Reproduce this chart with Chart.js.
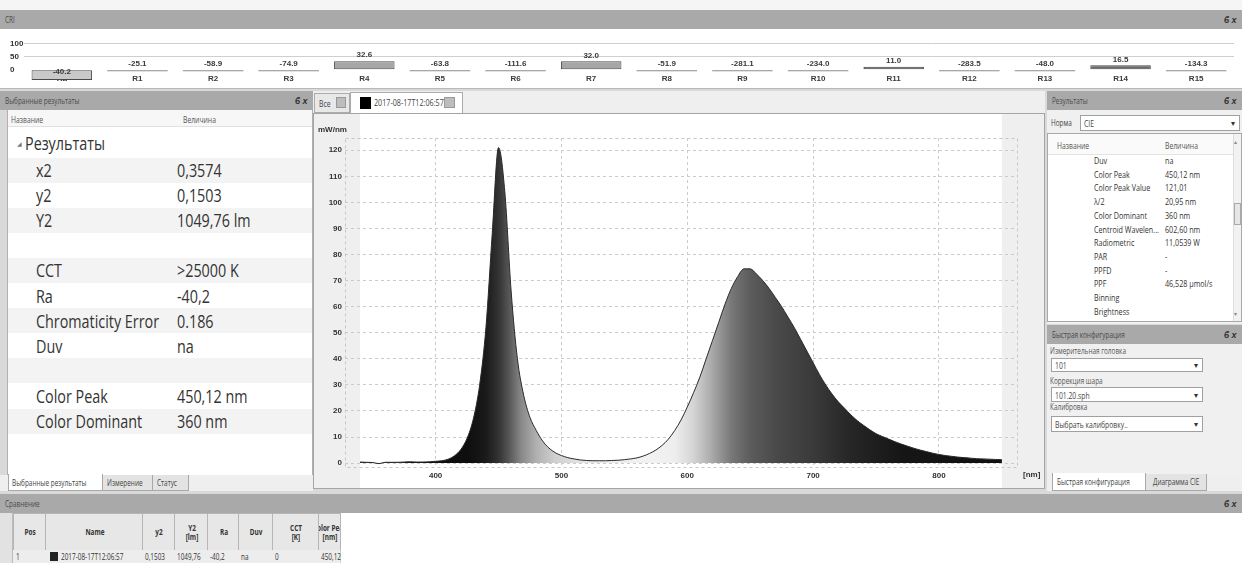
<!DOCTYPE html>
<html lang="ru">
<head>
<meta charset="utf-8">
<title>Спектр</title>
<script src="https://cdn.jsdelivr.net/npm/chart.js@4.4.1/dist/chart.umd.min.js"></script>
<style>
html,body{margin:0;padding:0}
body{width:1242px;height:563px;overflow:hidden;background:#d9d9d9;position:relative;font-family:"Open Sans","Noto Sans",sans-serif;color:#333}
.b{position:absolute;box-sizing:border-box;overflow:hidden}
.t{position:absolute;white-space:nowrap;line-height:1;transform:translateY(-50%) scaleX(.755);transform-origin:0 50%}
.tc{position:absolute;white-space:nowrap;line-height:1.1;text-align:center;transform:translate(-50%,-50%) scaleX(.755);transform-origin:50% 50%}
</style>
</head>
<body>
<script>
// CRI: Ra и R1..R15
const criLabels = ['Ra','R1','R2','R3','R4','R5','R6','R7','R8','R9','R10','R11','R12','R13','R14','R15'];
const criValues = [-40.2,-25.1,-58.9,-74.9,32.6,-63.8,-111.6,32.0,-51.9,-281.1,-234.0,11.0,-283.5,-48.0,16.5,-134.3];
const criTicks = [0,50,100];
const criColors = ['#c9c9c9','#8c8c8c','#8c8c8c','#8c8c8c','#a6a6a6','#8c8c8c','#8c8c8c','#a6a6a6',
  '#8c8c8c','#8c8c8c','#8c8c8c','#6b6b6b','#8c8c8c','#8c8c8c','#6b6b6b','#8c8c8c'];

// спектр, нм -> мВт/нм
const wavelengths = [
  340,345,350,355,360,365,370,375,380,385,
  390,395,400,405,410,415,420,425,430,435,
  440,445,450,455,460,465,470,475,480,485,
  490,495,500,505,510,515,520,525,530,535,
  540,545,550,555,560,565,570,575,580,585,
  590,595,600,605,610,615,620,625,630,635,
  640,645,650,655,660,665,670,675,680,685,
  690,695,700,705,710,715,720,725,730,735,
  740,745,750,755,760,765,770,775,780,785,
  790,795,800,805,810,815,820,825,830,835,
  840,845,850];
const power = [
  0.4,0.3,0.2,-0.2,0.3,0.3,0.3,0.4,0.5,0.4,
  0.4,0.5,0.7,0.9,1.5,2.8,5.2,9.5,17,30,
  52,88,121.01,104,66,40,26,17.5,12.5,8.5,
  5.8,4.0,2.9,2.1,1.6,1.2,1.0,0.9,0.9,0.9,
  1.0,1.1,1.3,1.6,2.0,2.7,3.7,5.0,6.8,9.2,
  12.5,16.5,21.5,27,33,40,47,54,61,67,
  71.5,74.5,74.5,72.5,70,67,63.5,60,56,52,
  47.5,43,38.5,34,30,26.5,23.5,21,18.5,16.3,
  14.5,12.8,11.3,10.2,9.2,8.2,7.3,6.5,5.7,5.0,
  4.4,3.8,3.3,2.9,2.6,2.3,2.1,1.9,1.7,1.6,
  1.5,1.4,1.3];
const xTicks = [400,500,600,700,800];
const yTicks = [0,10,20,30,40,50,60,70,80,90,100,110,120];

// градиент заливки по длине волны
const fillStops = [[340,'#101010'],[425,'#0e0e0e'],[440,'#1a1a1a'],[450,'#333'],[458,'#555'],[468,'#888'],
  [480,'#b0b0b0'],[495,'#d0d0d0'],[520,'#e6e6e6'],[570,'#f2f2f2'],[590,'#eeeeee'],[605,'#d4d4d4'],
  [620,'#a8a8a8'],[635,'#787878'],[650,'#5c5c5c'],[670,'#4a4a4a'],[700,'#3a3a3a'],[730,'#262626'],
  [770,'#161616'],[850,'#111']];

const leftRows = [['x2','0,3574'],['y2','0,1503'],['Y2','1049,76 lm'],['',''],['CCT','>25000 K'],['Ra','-40,2'],
  ['Chromaticity Error','0.186'],['Duv','na'],['',''],['Color Peak','450,12 nm'],['Color Dominant','360 nm']];
const resRows = [['Duv','na'],['Color Peak','450,12 nm'],['Color Peak Value','121,01'],['λ/2','20,95 nm'],
  ['Color Dominant','360 nm'],['Centroid Wavelen...','602,60 nm'],['Radiometric','11,0539 W'],['PAR','-'],
  ['PPFD','-'],['PPF','46,528 μmol/s'],['Binning',''],['Brightness','']];

const tickFont = {family:'"Liberation Sans", Arial, sans-serif', size:8, weight:'bold'};

function box(x, y, w, h, css, parent) {
  const d = document.createElement('div');
  d.className = 'b';
  d.style.cssText = `left:${x}px;top:${y}px;width:${w}px;height:${h}px;` + (css || '');
  (parent || document.body).appendChild(d);
  return d;
}
function put(x, y, s, size, css, parent, cls) {
  const d = document.createElement('div');
  d.className = cls || 't';
  d.textContent = s;
  d.style.cssText = `left:${x}px;top:${y}px;font-size:${size}px;` + (css || '');
  (parent || document.body).appendChild(d);
  return d;
}
function pin(x, y) {
  put(x, y, 'ϐ x', 9, 'font-family:"Liberation Sans";font-weight:bold;font-style:italic;color:#333;transform:translateY(-50%)');
}
function combo(x, y, w, h, s) {
  box(x, y, w, h, 'background:#fff;border:1px solid #a0a0a0');
  put(x + 4, y + h / 2, s, 9, 'color:#444');
  put(x + w - 9, y + h / 2, '▾', 8, 'color:#333;transform:translateY(-50%)');
}
function header(x, y, w, s, withPin) {
  box(x, y, w, 19, 'background:#a9a9a9');
  put(x + 5, y + 9.5, s, 8.5, 'color:#4a4a4a');
  if (withPin) pin(x + w - 18, y + 9.5);
}

// верх: панель CRI
box(0, 0, 1242, 10, 'background:#f5f5f5');
header(0, 10, 1242, 'CRI', true);
const criBox = box(0, 29, 1242, 59, 'background:#fff');
box(0, 88, 1242, 1, 'background:#b8b8b8');

// левая панель: выбранные результаты
header(0, 91, 313, 'Выбранные результаты', true);
box(7, 110, 306, 365, 'background:#fff;border-left:1px solid #b0b0b0;border-right:1px solid #b0b0b0');
box(8, 110, 304, 17, 'background:#f7f7f7;border-bottom:1px solid #e2e2e2');
put(11, 118.5, 'Название', 9, 'color:#555');
put(183, 118.5, 'Величина', 9, 'color:#555');
leftRows.forEach((r, i) => {
  if (i % 2 === 0) box(8, 170 + i * 25.1 - 12.5, 304, 25, 'background:#f3f3f3');
});
put(17, 144, '◢', 6, 'color:#777;transform:translateY(-50%)');
put(25, 143, 'Результаты', 19);
leftRows.forEach((r, i) => {
  const cy = 170 + i * 25.1;
  put(36, cy, r[0], 19);
  put(177, cy, r[1], 19);
});
box(0, 475, 313, 16, 'background:#efefef');
box(8, 474, 95, 17, 'background:#fff;border:1px solid #a8a8a8;border-top:none');
put(12, 483, 'Выбранные результаты', 8.5, 'color:#444');
box(102, 475, 51, 16, 'background:#e3e3e3;border:1px solid #a8a8a8;border-top:none');
put(107, 483, 'Измерение', 8.5, 'color:#444');
box(152, 475, 37, 16, 'background:#e3e3e3;border:1px solid #a8a8a8;border-top:none');
put(157, 483, 'Статус', 8.5, 'color:#444');

// центр: вкладки и график спектра
box(313, 91, 732, 22, 'background:#efefef');
box(314, 93, 36, 20, 'background:#e8e8e8;border:1px solid #ababab');
put(319, 103, 'Все', 9, 'color:#444');
box(336, 97, 10, 11, 'background:#bdbdbd;border:1px solid #999');
box(350, 92, 113, 22, 'background:#fff;border:1px solid #ababab;border-bottom:none');
box(360, 97, 11, 12, 'background:#000');
put(374, 103, '2017-08-17T12:06:57', 9.5, 'color:#444');
box(444, 97, 11, 11, 'background:#bdbdbd;border:1px solid #999');
box(313, 113, 732, 376, 'background:#fff;border:1px solid #a5a5a5');
const specBox = box(314, 114, 730, 374, '');

// правая панель: результаты
header(1047, 91, 195, 'Результаты', true);
box(1047, 110, 195, 214, 'background:#f0f0f0');
put(1051, 123, 'Норма', 8.5, 'color:#444');
combo(1080, 115, 160, 16, 'CIE');
box(1047, 133, 195, 189, 'background:#fff;border:1px solid #a8a8a8');
box(1048, 134, 185, 21, 'background:#fafafa;border-bottom:1px solid #e4e4e4');
put(1057, 145, 'Название', 9, 'color:#555');
put(1165, 145, 'Величина', 9, 'color:#555');
box(1233, 134, 8, 187, 'background:#f2f2f2;border-left:1px solid #ddd');
box(1234, 203, 7, 22, 'background:#e6e6e6;border:1px solid #aaa');
put(1234, 142, '▴', 6, 'color:#888;transform:translateY(-50%)');
put(1234, 314, '▾', 6, 'color:#888;transform:translateY(-50%)');
resRows.forEach((r, i) => {
  const cy = 161 + i * 13.7;
  put(1094, cy, r[0], 9.5);
  put(1165, cy, r[1], 9.5);
});

// правая панель: быстрая конфигурация
header(1047, 325, 195, 'Быстрая конфигурация', true);
box(1047, 344, 195, 131, 'background:#f0f0f0');
put(1050, 351, 'Измерительная головка', 8.5, 'color:#555');
combo(1051, 358, 152, 14, '101');
put(1050, 381, 'Коррекция шара', 8.5, 'color:#555');
combo(1051, 387, 152, 15, '101.20.sph');
put(1050, 407, 'Калибровка', 8.5, 'color:#555');
combo(1051, 416, 152, 16, 'Выбрать калибровку..');
box(1047, 474, 195, 17, 'background:#efefef');
box(1052, 473, 94, 18, 'background:#fff;border:1px solid #a8a8a8;border-top:none');
put(1057, 482, 'Быстрая конфигурация', 8.5, 'color:#444');
box(1145, 474, 62, 17, 'background:#e3e3e3;border:1px solid #a8a8a8;border-top:none');
put(1153, 482, 'Диаграмма CIE', 8.5, 'color:#444');

// низ: сравнение
header(0, 494, 1242, 'Сравнение', true);
box(0, 513, 1242, 50, 'background:#fff');
box(0, 513, 13, 50, 'background:#e2e2e2;border-right:1px solid #bbb');
const cmpCols = [[13,32,'Pos'],[45,97,'Name'],[142,32,'y2'],[174,33,'Y2\n[lm]'],[207,31,'Ra'],
  [238,34,'Duv'],[272,46,'CCT\n[K]'],[318,22,'Color Peak\n[nm]']];
const cmpRow = ['1','2017-08-17T12:06:57','0,1503','1049,76','-40,2','na','0','450,12'];
cmpCols.forEach((c, i) => {
  const cell = box(c[0], 513, c[1] + 1, 38, 'background:#e7e7e7;border:1px solid #b5b5b5');
  put(c[1] / 2, 18, c[2], 8.5, 'font-weight:bold;white-space:pre;color:#333', cell, 'tc');
  box(c[0], 550, c[1] + 1, 13, 'background:#ededed;border-right:1px solid #d0d0d0');
  const tx = i === 1 ? c[0] + 16 : c[0] + 3;
  put(tx, 556.5, cmpRow[i], 8.5, 'color:#333');
});
box(50, 552, 8, 9, 'background:#222');

// подписи осей спектра
put(318, 130, 'mW/nm', 8, 'font-family:"Liberation Sans";font-weight:bold;transform:translateY(-50%)');
put(1023, 475, '[nm]', 8, 'font-family:"Liberation Sans";font-weight:bold;transform:translateY(-50%)');

const criCanvas = document.createElement('canvas');
criBox.appendChild(criCanvas);
const specCanvas = document.createElement('canvas');
specBox.appendChild(specCanvas);

// подписи значений над столбцами CRI
const criValueLabels = {
  id: 'criValueLabels',
  afterDatasetsDraw(chart) {
    const {ctx, scales: {y}} = chart;
    const zero = y.getPixelForValue(0);
    ctx.save();
    ctx.font = 'bold 8px "Liberation Sans", Arial';
    ctx.fillStyle = '#3a3a3a';
    ctx.textAlign = 'center';
    ctx.textBaseline = 'middle';
    chart.data.datasets.forEach((ds, di) => {
      chart.getDatasetMeta(di).data.forEach((bar, i) => {
        const v = ds.data[i];
        if (v == null) return;
        const ty = ds.clip === false ? (zero + bar.y) / 2 - 3 : Math.min(bar.y, zero) - 6;
        ctx.fillText(v.toFixed(1), bar.x, ty);
      });
    });
    ctx.restore();
  }
};

new Chart(criCanvas, {
  type: 'bar',
  data: {
    labels: criLabels,
    datasets: [
      {data: criValues.map((v, i) => i ? v : null), backgroundColor: criColors, borderColor: '#4a4a4a',
        borderWidth: c => (c.raw > 0 ? 1 : 0), borderSkipped: false, barPercentage: 0.8, categoryPercentage: 1, grouped: false},
      {data: criValues.map((v, i) => i ? null : v), backgroundColor: criColors, borderColor: '#4a4a4a',
        borderWidth: 1, borderSkipped: false, barPercentage: 0.8, categoryPercentage: 1, grouped: false, clip: false}
    ]
  },
  options: {
    animation: false, responsive: true, maintainAspectRatio: false,
    layout: {padding: {top: 12, right: 8, left: 10, bottom: 0}},
    plugins: {legend: {display: false}, tooltip: {enabled: false}},
    scales: {
      x: {grid: {display: false, drawTicks: false}, border: {display: false},
        ticks: {font: tickFont, color: '#3a3a3a', padding: 3, maxRotation: 0},
        afterFit: s => { s.height = 16.8; }},
      y: {min: -6, max: 110,
        afterBuildTicks: s => { s.ticks = criTicks.map(v => ({value: v})); },
        afterFit: s => { s.width = 14; },
        grid: {drawTicks: false, color: c => (c.tick && c.tick.value > 0 ? '#cfcfcf' : 'rgba(0,0,0,0)')},
        border: {display: false},
        ticks: {crossAlign: 'far', font: tickFont, color: '#333', padding: 0}}
    }
  },
  plugins: [criValueLabels]
});

// серые поля вне диапазона измерения и пунктирная рамка
const spectrumBack = {
  id: 'spectrumBack',
  beforeDraw(chart) {
    const {ctx, width, height, scales: {x}} = chart;
    const a = x.getPixelForValue(wavelengths[0]);
    const b = x.getPixelForValue(wavelengths[wavelengths.length - 1]);
    ctx.save();
    ctx.fillStyle = '#efefef';
    ctx.fillRect(0, 0, width, height);
    ctx.fillStyle = '#fff';
    ctx.fillRect(a, 0, b - a, height);
    ctx.restore();
  },
  beforeDatasetsDraw(chart) {
    const {ctx, chartArea: ca} = chart;
    ctx.save();
    ctx.strokeStyle = '#c6c6c6';
    ctx.lineWidth = 1;
    ctx.setLineDash([3, 3]);
    ctx.strokeRect(Math.round(ca.left) + 0.5, Math.round(ca.top) + 0.5, Math.round(ca.width), Math.round(ca.height));
    ctx.restore();
  }
};

function spectrumFill(c) {
  const chart = c.chart;
  if (!chart.chartArea) return '#555';
  const x = chart.scales.x;
  const w0 = wavelengths[0], w1 = wavelengths[wavelengths.length - 1];
  const g = chart.ctx.createLinearGradient(x.getPixelForValue(w0), 0, x.getPixelForValue(w1), 0);
  fillStops.forEach(([w, col]) => g.addColorStop((w - w0) / (w1 - w0), col));
  return g;
}

new Chart(specCanvas, {
  type: 'line',
  data: {
    datasets: [{
      data: wavelengths.map((w, i) => ({x: w, y: power[i]})),
      borderColor: '#2a2a2a', borderWidth: 1, pointRadius: 0,
      fill: 'origin', backgroundColor: spectrumFill, cubicInterpolationMode: 'monotone'
    }]
  },
  options: {
    animation: false, responsive: true, maintainAspectRatio: false,
    layout: {padding: {top: 24, right: 27, left: 0, bottom: 0}},
    plugins: {legend: {display: false}, tooltip: {enabled: false}},
    scales: {
      x: {type: 'linear', min: 328, max: 862,
        afterBuildTicks: s => { s.ticks = xTicks.map(v => ({value: v})); },
        afterFit: s => { s.height = 21; },
        grid: {color: '#cbcbcb', drawTicks: false},
        border: {display: false, dash: [3, 3]},
        ticks: {font: tickFont, color: '#333', padding: 4, maxRotation: 0}},
      y: {min: -1.5, max: 124.7,
        afterBuildTicks: s => { s.ticks = yTicks.map(v => ({value: v})); },
        afterFit: s => { s.width = 31; },
        grid: {color: '#cbcbcb', drawTicks: false},
        border: {display: false, dash: [3, 3]},
        ticks: {font: tickFont, color: '#333', padding: 3}}
    }
  },
  plugins: [spectrumBack]
});
</script>
</body>
</html>
